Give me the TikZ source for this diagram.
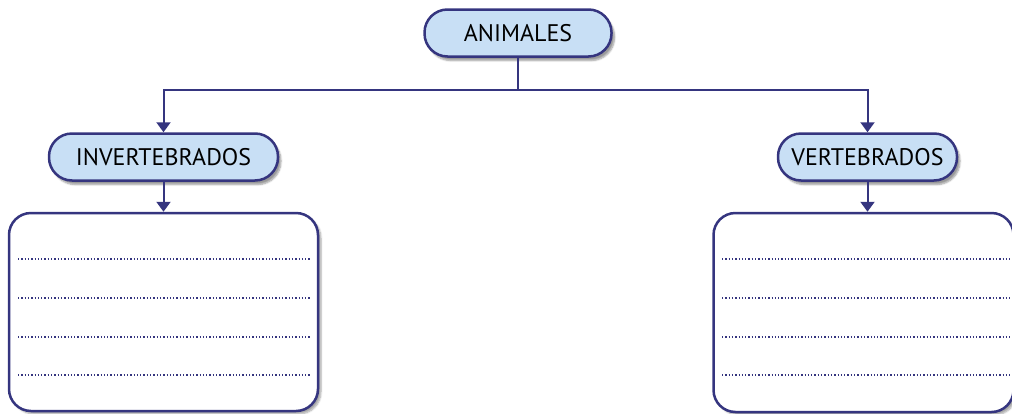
\documentclass[tikz,border=0pt]{standalone}
\usepackage{fontspec}
\usepackage{xcolor}
\usepackage{tikz}
\usetikzlibrary{arrows.meta,shadows.blur}
\newfontfamily\labelfont{PT Sans}
\definecolor{navyx}{HTML}{35357F}
\definecolor{skyx}{HTML}{C8DFF5}
\tikzset{
  ar/.style={-{Triangle[width=14pt,length=10pt]},line width=2pt,navyx},
  link/.style={line width=2pt,navyx},
  pill/.style={draw=navyx,line width=2.5pt,fill=skyx,rounded corners=23pt,minimum height=47pt,
    font=\labelfont\fontsize{24}{26}\selectfont,
    blur shadow={shadow xshift=3pt,shadow yshift=-4pt,shadow blur steps=6,shadow opacity=40}},
  panel/.style={draw=navyx,line width=2.5pt,fill=white,rounded corners=22pt,
    blur shadow={shadow xshift=3pt,shadow yshift=-3pt,shadow blur steps=6,shadow opacity=35}},
  dotline/.style={navyx,line width=1.3pt,dash pattern=on 1.3pt off 2pt}
}

\begin{document}
\begin{tikzpicture}[x=1pt,y=-1pt]
\useasboundingbox (0,0) rectangle (1012,413);
% top of the tree
\node[pill,minimum width=187pt] (animales) at (518,33) {ANIMALES};
\node[pill,minimum width=229pt] (invert) at (163.5,157) {INVERTEBRADOS};
\node[pill,minimum width=179pt] (vert) at (867.5,157) {VERTEBRADOS};
% boxes to write in
\node[panel,minimum width=309pt,minimum height=198pt] (boxinv) at (163.5,312) {};
\node[panel,minimum width=300pt,minimum height=199pt] (boxvert) at (863.5,312.5) {};
\foreach \yy in {259,298,337,375}{
  \draw[dotline] (18,\yy) -- (310,\yy);
  \draw[dotline] (722,\yy) -- (1012,\yy);
}
% connectors
\coordinate (split) at (518,90);
\draw[link] (animales.south) -- (split);
\draw[ar] (split) -| (invert.north);
\draw[ar] (split) -| (vert.north);
\draw[ar] (invert.south) -- (invert.south |- boxinv.north);
\draw[ar] (vert.south) -- (vert.south |- boxvert.north);
\end{tikzpicture}
\end{document}
